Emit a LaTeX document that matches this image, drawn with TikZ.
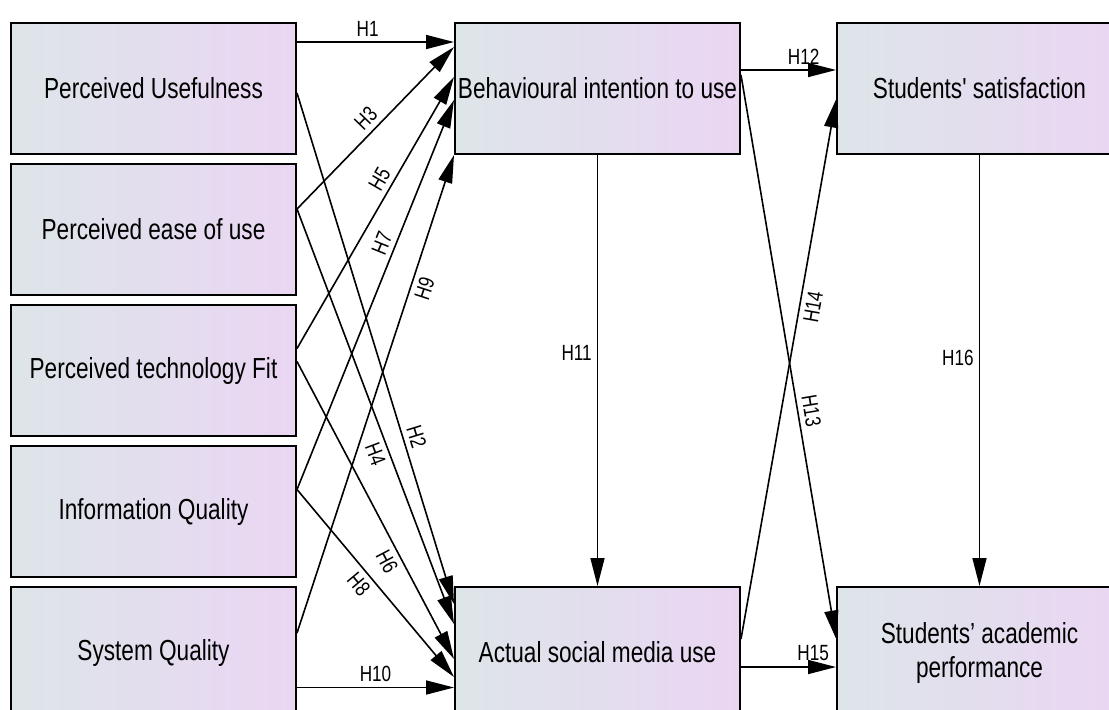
\documentclass[tikz,border=0pt]{standalone}
\usepackage{fontspec}
\newfontfamily\diagfont[FakeStretch=0.78]{Liberation Sans}
\usetikzlibrary{positioning, arrows.meta}
\definecolor{boxleft}{RGB}{221,229,233}
\definecolor{boxright}{RGB}{234,214,243}

\begin{document}
\begin{tikzpicture}[x=0.5pt, y=-0.5pt]
    \useasboundingbox (0,0) rectangle (1109,709);

    \tikzstyle{factor} = [rectangle, minimum width=142.5pt, minimum height=65.5pt, inner xsep=1pt, align=center, draw=black, line width=1pt, left color=boxleft, right color=boxright, font=\diagfont\fontsize{14.5}{17}\selectfont]
    \tikzstyle{hyp} = [font=\diagfont\fontsize{11}{13}\selectfont, inner sep=2.5pt]
    \tikzstyle{arrow} = [line width=0.8pt, ->, >={Triangle[length=14pt, width=7pt]}]

            % Faktoren links, Mitte, rechts
            \node (Perceived_Usefulness) [factor] at (153.5,88.5) {Perceived Usefulness};
            \node (Perceived_Ease) [factor, below=4pt of Perceived_Usefulness] {Perceived ease of use};
            \node (Technology_Fit) [factor, below=4pt of Perceived_Ease] {Perceived technology Fit};
            \node (Information_Quality) [factor, below=4pt of Technology_Fit] {Information Quality};
            \node (System_Quality) [factor, below=4pt of Information_Quality] {System Quality};

            \node (Behavioural_Intention) [factor, right=78.5pt of Perceived_Usefulness] {Behavioural intention to use};
            \node (Actual_Use) [factor, right=78.5pt of System_Quality] {Actual social media use};

            \node (Satisfaction) [factor, right=47.5pt of Behavioural_Intention] {Students' satisfaction};
            \node (Academic_Performance) [factor, right=47.5pt of Actual_Use] {Students’ academic\\performance};

            % ----- ----- ----- ----- ----- ----- ----- ----- ----- ----- ----- ----- ----- ----- ----- ----- ----- ----- -----

            \draw [arrow] ([yshift=23.25pt]Perceived_Usefulness.east) -- node[hyp, above, pos=0.45] {H1} ([yshift=23.25pt]Behavioural_Intention.west);
            \draw [arrow] ([yshift=-2.25pt]Perceived_Usefulness.east) -- node[hyp, sloped, above, pos=0.68] {H2} ([yshift=24.25pt]Actual_Use.west);
            \draw [arrow] ([yshift=10.25pt]Perceived_Ease.east) -- node[hyp, sloped, above, pos=0.5] {H3} ([yshift=20.75pt]Behavioural_Intention.west);
            \draw [arrow] ([yshift=10.25pt]Perceived_Ease.east) -- node[hyp, sloped, below, pos=0.58] {H4} ([yshift=14.25pt]Actual_Use.west);
            \draw [arrow] ([yshift=11pt]Technology_Fit.east) -- node[hyp, sloped, above, pos=0.6] {H5} ([yshift=5.75pt]Behavioural_Intention.west);
            \draw [arrow] ([yshift=4.5pt]Technology_Fit.east) -- node[hyp, sloped, below, pos=0.65] {H6} ([yshift=-3.25pt]Actual_Use.west);
            \draw [arrow] ([yshift=11pt]Information_Quality.east) -- node[hyp, sloped, above, pos=0.62] {H7} ([yshift=-5.75pt]Behavioural_Intention.west);
            \draw [arrow] ([yshift=11pt]Information_Quality.east) -- node[hyp, sloped, below, pos=0.46] {H8} ([yshift=-12.25pt]Actual_Use.west);
            \draw [arrow] ([yshift=9.75pt]System_Quality.east) -- node[hyp, sloped, below, pos=0.73] {H9} (Behavioural_Intention.south west);
            \draw [arrow] ([yshift=-17.5pt]System_Quality.east) -- node[hyp, above, pos=0.5] {H10} ([yshift=-17.5pt]Actual_Use.west);

            \draw [arrow] (Behavioural_Intention.south) -- node[hyp, left, pos=0.46] {H11} (Actual_Use.north);
            \draw [arrow] ([yshift=9.25pt]Behavioural_Intention.east) -- node[hyp, above, pos=0.66] {H12} ([yshift=9.25pt]Satisfaction.west);
            \draw [arrow] ([yshift=6.75pt]Behavioural_Intention.east) -- node[hyp, sloped, above, pos=0.6] {H13} ([yshift=7pt]Academic_Performance.west);
            \draw [arrow] ([yshift=6.75pt]Actual_Use.east) -- node[hyp, sloped, below, pos=0.62] {H14} ([yshift=-5.5pt]Satisfaction.west);
            \draw [arrow] ([yshift=-7.25pt]Actual_Use.east) -- node[hyp, above, pos=0.76] {H15} ([yshift=-7.25pt]Academic_Performance.west);
            \draw [arrow] (Satisfaction.south) -- node[hyp, left, pos=0.47] {H16} (Academic_Performance.north);
\end{tikzpicture}
\end{document}
